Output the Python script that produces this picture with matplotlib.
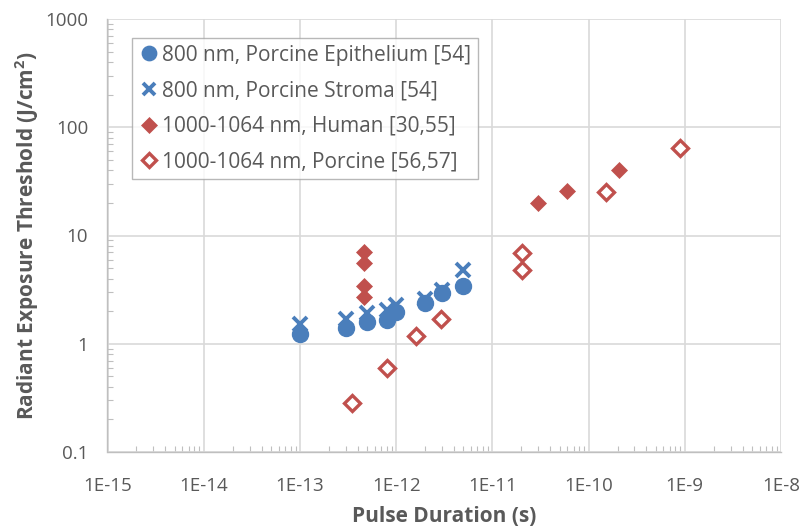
import matplotlib
matplotlib.use("Agg")
import matplotlib.pyplot as plt
from matplotlib.ticker import LogLocator, NullFormatter, FixedLocator

# Data
epi_x = [1e-13, 3e-13, 5e-13, 8e-13, 1e-12, 2e-12, 3e-12, 5e-12]
epi_y = [1.24, 1.4, 1.58, 1.66, 1.95, 2.4, 2.95, 3.45]

str_x = [1e-13, 3e-13, 5e-13, 8e-13, 1e-12, 2e-12, 3e-12, 5e-12]
str_y = [1.52, 1.7, 1.93, 2.05, 2.28, 2.6, 3.15, 4.8]

hum_x = [4.6e-13, 4.6e-13, 4.6e-13, 4.6e-13, 3e-11, 6e-11, 2.05e-10]
hum_y = [7.0, 5.6, 3.4, 2.7, 20, 26, 40]

por_x = [3.5e-13, 8e-13, 1.6e-12, 2.9e-12, 2.05e-11, 2.05e-11, 1.5e-10, 9e-10]
por_y = [0.285, 0.6, 1.19, 1.7, 6.9, 4.75, 25, 64]

x_ticks = [1e-15, 1e-14, 1e-13, 1e-12, 1e-11, 1e-10, 1e-9, 1e-8]
x_labels = ["1E-15", "1E-14", "1E-13", "1E-12", "1E-11", "1E-10", "1E-9", "1E-8"]
y_ticks = [0.1, 1, 10, 100, 1000]
y_labels = ["0.1", "1", "10", "100", "1000"]

labels = ["800 nm, Porcine Epithelium [54]",
          "800 nm, Porcine Stroma [54]",
          "1000-1064 nm, Human [30,55]",
          "1000-1064 nm, Porcine [56,57]"]

blue = "#4a7ebb"
red = "#c0504d"
gray = "#595959"

plt.rcParams['font.family'] = ['Open Sans', 'DejaVu Sans']

fig = plt.figure(figsize=(8.03, 5.31), dpi=100)
ax = fig.add_axes([107.5/803, 1-452/531, (781-107.5)/803, (452-19)/531])
ax.set_xscale('log')
ax.set_yscale('log')
ax.set_xlim(1e-15, 1e-8)
ax.set_ylim(0.1, 1000)

ax.plot(epi_x, epi_y, linestyle='none', marker='o', ms=11.5, color=blue,
        mec=blue, label=labels[0], zorder=3)
ax.plot(str_x, str_y, linestyle='none', marker='x', ms=10, color=blue,
        mew=2.8, label=labels[1], zorder=3)
ax.plot(hum_x, hum_y, linestyle='none', marker='D', ms=8.5, color=red,
        mec=red, mew=0.5, label=labels[2], zorder=3)
ax.plot(por_x, por_y, linestyle='none', marker='D', ms=8, mfc='white',
        mec=red, mew=2.4, label=labels[3], zorder=3)

ax.xaxis.set_major_locator(FixedLocator(x_ticks))
ax.set_xticklabels(x_labels)
ax.yaxis.set_major_locator(FixedLocator(y_ticks))
ax.set_yticklabels(y_labels)
ax.xaxis.set_minor_locator(LogLocator(base=10, subs=range(2, 10), numticks=20))
ax.yaxis.set_minor_locator(LogLocator(base=10, subs=range(2, 10), numticks=20))
ax.xaxis.set_minor_formatter(NullFormatter())
ax.yaxis.set_minor_formatter(NullFormatter())

ax.grid(True, which='major', color='#d9d9d9', lw=1.2)
ax.set_axisbelow(True)
for s in ['top', 'right']:
    ax.spines[s].set_visible(False)
for s in ['left', 'bottom']:
    ax.spines[s].set_color('#bfbfbf')
    ax.spines[s].set_linewidth(1.0)

ax.tick_params(which='major', length=0, labelsize=13.5, labelcolor=gray)
ax.tick_params(which='minor', direction='in', length=4, color='#bfbfbf', width=0.8)
ax.tick_params(axis='x', which='major', pad=18)
ax.tick_params(axis='y', which='major', pad=14)

ax.set_xlabel("Pulse Duration (s)", fontsize=15, fontweight='bold', color=gray, labelpad=8)
ax.set_ylabel("Radiant Exposure Threshold (J/cm$^\\mathregular{2}$)", fontsize=15,
              fontweight='bold', color=gray, labelpad=3)

leg = ax.legend(loc='upper left', bbox_to_anchor=(25/673.5, 1-19/433),
                fontsize=15, frameon=True, fancybox=False, edgecolor='#a6a6a6',
                handlelength=0.95, handletextpad=0.15, labelspacing=0.7,
                borderpad=0.32, labelcolor=gray, borderaxespad=0)
leg.get_frame().set_linewidth(1.0)
leg.set_zorder(5)
for h in leg.legend_handles:
    h.set_markersize(h.get_markersize() * 0.9)

fig.savefig("out.png", dpi=100)
